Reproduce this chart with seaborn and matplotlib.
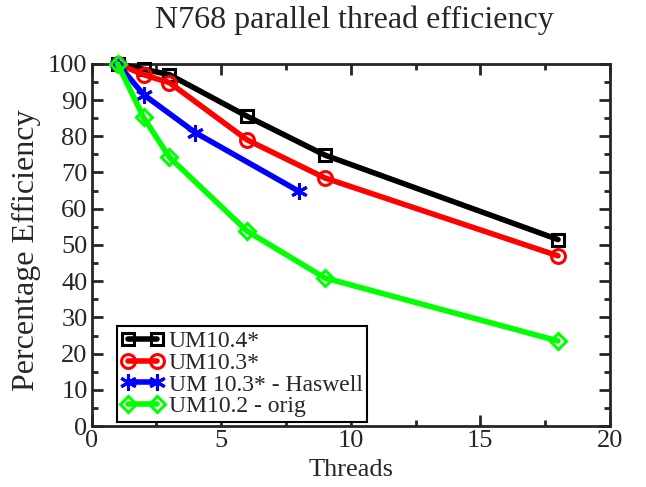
import numpy as np
import pandas as pd
import matplotlib
matplotlib.use("Agg")
import matplotlib.pyplot as plt
import seaborn as sns

# values
threads_main = [1, 2, 3, 6, 9, 18]
threads_haswell = [1, 2, 4, 8]
um104 = [100, 98.5, 97, 85.5, 74.8, 51.5]
um103 = [100, 97, 94.8, 79, 68.5, 47]
um103_haswell = [100, 91.5, 81, 64.8]
um102 = [100, 85.2, 74.2, 53.8, 40.9, 23.5]

series = [
    ("UM10.4*", threads_main, um104, "black", "s", 9),
    ("UM10.3*", threads_main, um103, "red", "o", 10),
    ("UM 10.3* - Haswell", threads_haswell, um103_haswell, "blue", (6, 2, 0), 12),
    ("UM10.2 - orig", threads_main, um102, "lime", "D", 8),
]

sns.set_style("ticks")
plt.rcParams['font.family'] = ['Liberation Serif', 'DejaVu Serif']

fig = plt.figure(figsize=(6.46, 4.87), dpi=100)
ax = fig.add_axes([0.142, 0.125, 0.802, 0.744])

for name, xs, ys, col, mk, ms in series:
    df = pd.DataFrame({"Threads": xs, "Eff": ys})
    sns.lineplot(data=df, x="Threads", y="Eff", ax=ax, color=col, linewidth=4,
                 marker=mk, markersize=ms, markerfacecolor="none",
                 markeredgecolor=col, markeredgewidth=2.2, label=name,
                 clip_on=False, zorder=3)

ax.set_xlim(0, 20)
ax.set_ylim(0, 100)
ax.set_xticks(np.arange(0, 21, 5))
ax.set_yticks(np.arange(0, 101, 10))
ax.set_xticks(np.arange(0, 20.1, 2.5), minor=True)
ax.set_yticks(np.arange(0, 101, 5), minor=True)
ax.tick_params(which="both", direction="in", top=True, right=True,
               labelsize=19, width=2, pad=3)
ax.tick_params(which="major", length=8)
ax.tick_params(which="minor", length=4)
for sp in ax.spines.values():
    sp.set_linewidth(2)
    sp.set_visible(True)

ax.set_xlabel("Threads", fontsize=19, labelpad=5)
ax.set_ylabel("Percentage Efficiency", fontsize=23, va="center")
ax.yaxis.set_label_coords(-0.1255, 0.485)
fig.text(0.548, 0.9425, "N768 parallel thread efficiency", fontsize=23,
         ha="center", va="baseline")

leg = ax.legend(loc="lower left", bbox_to_anchor=(0.048, 0.012), numpoints=2,
                fancybox=False, framealpha=1, edgecolor="black", fontsize=17,
                borderpad=0.2, labelspacing=0.0, handlelength=1.8,
                handletextpad=0.2, borderaxespad=0)
leg.get_frame().set_linewidth(1.5)

fig.savefig("out.png", dpi=100)
